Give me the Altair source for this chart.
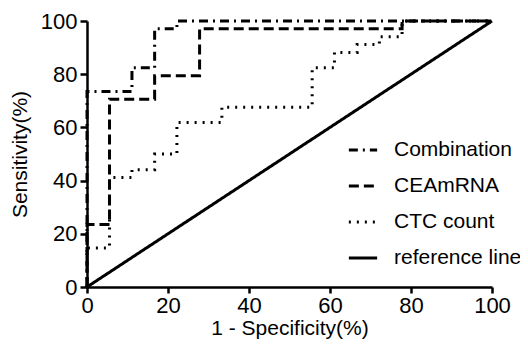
import altair as alt
import pandas as pd

series_names = ["Combination", "CEAmRNA", "CTC count", "reference line"]

comb_x = [0, 0, 11.1, 16.7, 22.2, 100]
comb_y = [0, 73.5, 82.4, 97.1, 100, 100]
cea_x = [0, 0, 5.56, 16.7, 27.8, 77.8, 100]
cea_y = [0, 23.5, 70.6, 79.4, 97.1, 100, 100]
ctc_x = [0, 0, 5.56, 11.1, 16.7, 22.2, 33.3, 55.6, 61.1, 66.7, 72.2, 77.8, 100]
ctc_y = [0, 14.7, 41.2, 44.1, 50.0, 61.8, 67.6, 82.4, 88.2, 91.2, 94.1, 100, 100]
ref_x = [0, 100]
ref_y = [0, 100]

x_ticks = [0, 20, 40, 60, 80, 100]
y_ticks = [0, 20, 40, 60, 80, 100]

rows = []
for name, xs, ys in [(series_names[0], comb_x, comb_y),
                     (series_names[1], cea_x, cea_y),
                     (series_names[2], ctc_x, ctc_y)]:
    for i, (a, b) in enumerate(zip(xs, ys)):
        rows.append({"series": name, "x": a, "y": b, "order": i})
roc = pd.DataFrame(rows)
ref = pd.DataFrame({"series": series_names[3], "x": ref_x, "y": ref_y, "order": [0, 1]})

FONT = "Liberation Sans"

dash = alt.StrokeDash(
    "series:N",
    scale=alt.Scale(domain=series_names,
                    range=[[9, 5, 2, 5], [10, 5], [2, 6], [1, 0]]),
    legend=alt.Legend(
        title=None, orient="none", legendX=260, legendY=113,
        symbolType="stroke", symbolSize=800, symbolStrokeWidth=3,
        symbolStrokeColor="black", labelFontSize=21, labelFont=FONT,
        labelColor="black", labelOffset=15, rowPadding=10, padding=0,
    ),
)

xenc = alt.X("x:Q", scale=alt.Scale(domain=[0, 100], nice=False),
             axis=alt.Axis(values=x_ticks, title="1 - Specificity(%)",
                           labelFlush=False, labelPadding=2, tickSize=6,
                           titlePadding=1, titleFontSize=21))
yenc = alt.Y("y:Q", scale=alt.Scale(domain=[0, 100], nice=False),
             axis=alt.Axis(values=y_ticks, title="Sensitivity(%)",
                           labelPadding=3, tickSize=7, titlePadding=10,
                           titleFontSize=21))

lines = alt.Chart(roc).mark_line(
    interpolate="step-after", color="black", strokeWidth=3, strokeCap="butt"
).encode(x=xenc, y=yenc, strokeDash=dash, order="order:Q")

refline = alt.Chart(ref).mark_line(
    color="black", strokeWidth=3
).encode(x=xenc, y=yenc, strokeDash=dash, order="order:Q")

chart = alt.layer(lines, refline).properties(
    width=405, height=266,
    autosize=alt.AutoSizeParams(type="none"),
    padding={"left": 79, "top": 13, "right": 28, "bottom": 52},
).configure_view(stroke=None).configure_axis(
    grid=False, domainColor="black", domainWidth=2.5, tickColor="black",
    tickWidth=2.5, labelColor="black", labelFont=FONT,
    labelFontSize=22, titleFont=FONT,
    titleFontWeight="normal", titleColor="black", zindex=1,
)

chart.save("out.html", embed_options={"renderer": "svg", "actions": False})
